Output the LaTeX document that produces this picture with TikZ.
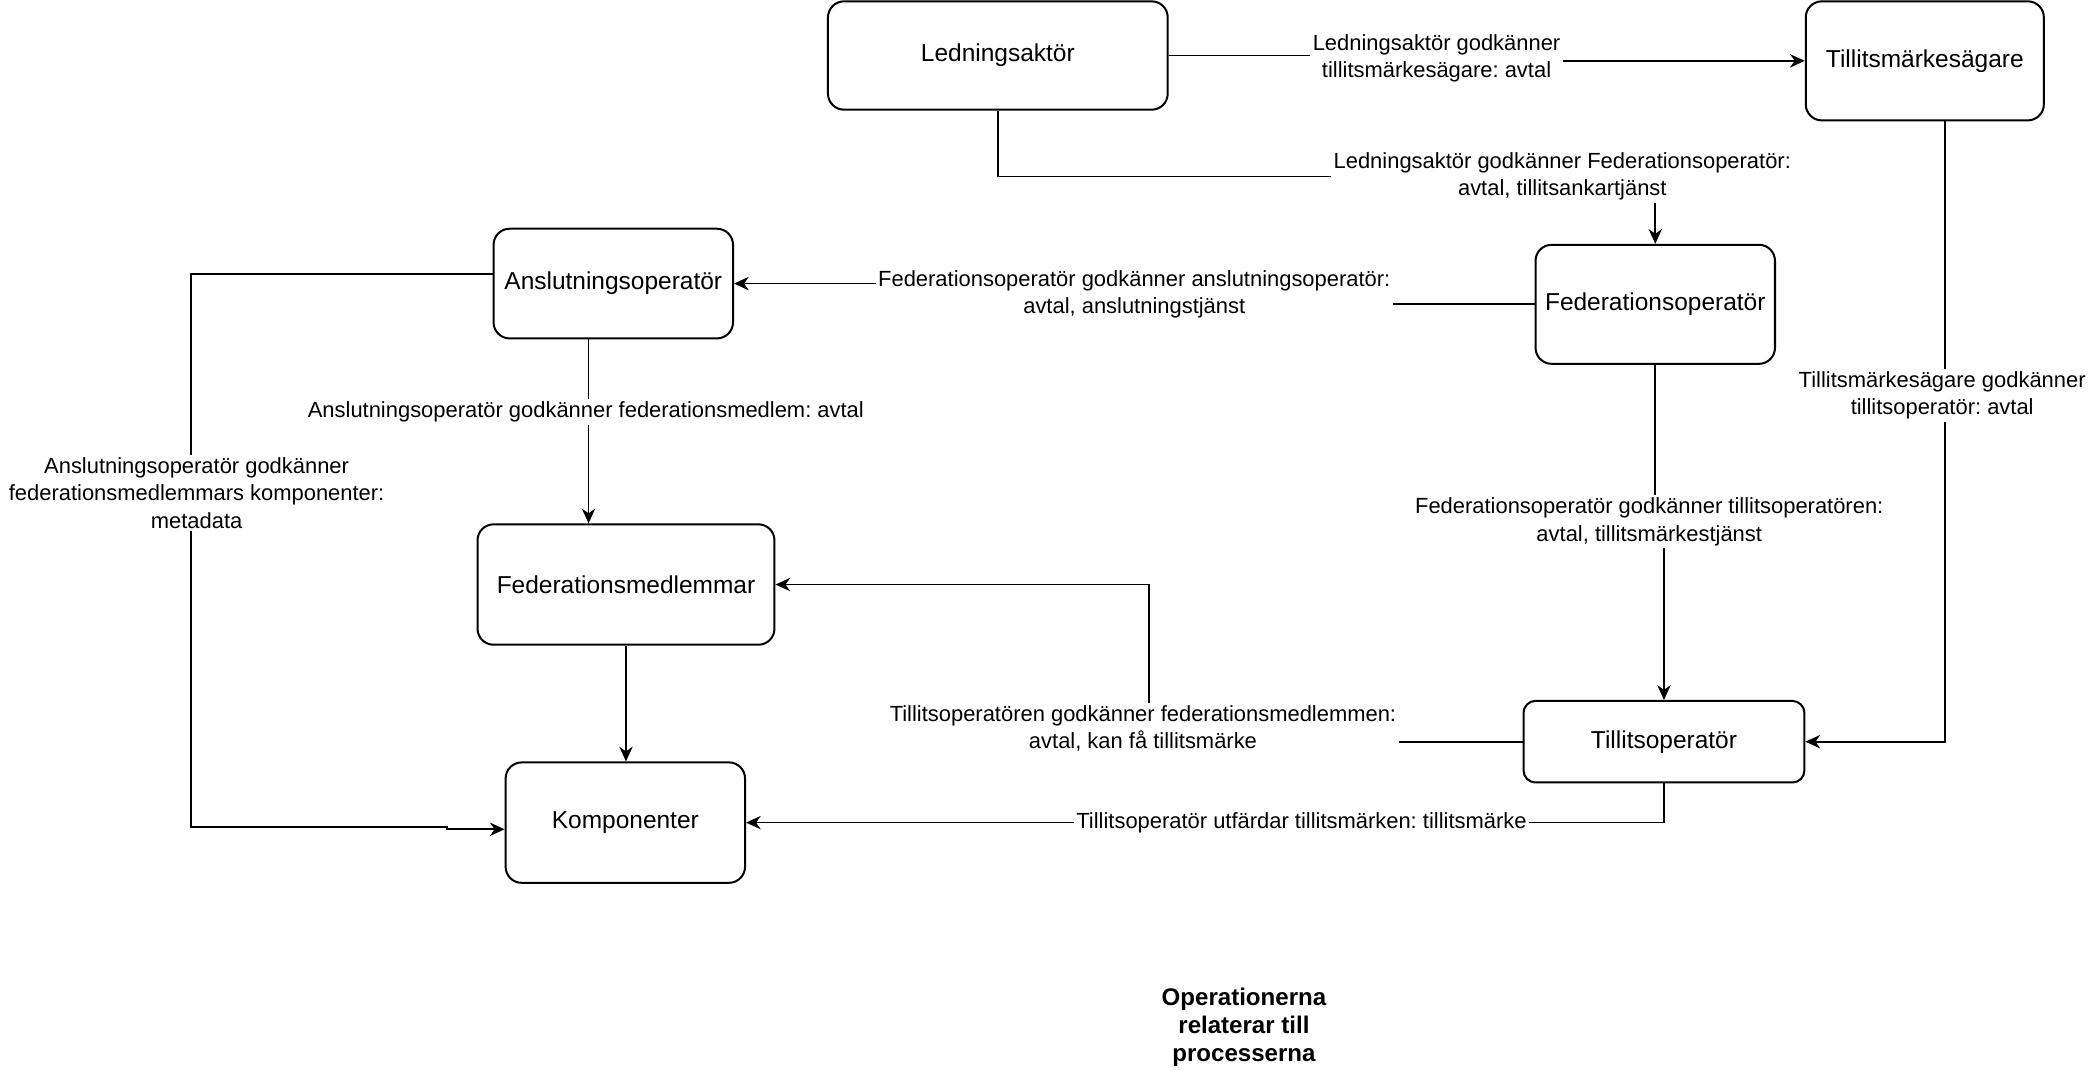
\documentclass[tikz,border=0pt]{standalone}
\usepackage{fontspec}
\setmainfont{Liberation Sans}
\usetikzlibrary{arrows.meta}
\frenchspacing
\begin{document}
\begin{tikzpicture}[x=1pt,y=-1pt,
  box/.style={draw, line width=1.5pt, rounded corners=12pt, align=center,
    font=\fontsize{18.3}{22}\selectfont, inner sep=0pt},
  lbl/.style={fill=white, align=center, font=\fontsize{16.4}{20.5}\selectfont, inner sep=2pt},
  conn/.style={line width=1.3pt},
  arr/.style={conn, -{Stealth[length=11pt,width=10pt,inset=3.5pt]}}]
\useasboundingbox[fill=white] (0,0) rectangle (1567,800);

% boxes
\node[box, minimum width=254pt, minimum height=81pt] (lead) at (746,41.5) {Ledningsaktör};
\node[box, minimum width=178pt, minimum height=89pt] (tms) at (1439,45.5) {Tillitsmärkesägare};
\node[box, minimum width=179pt, minimum height=89pt] (fedop) at (1237.5,227.5) {Federationsoperatör};
\node[box, minimum width=179pt, minimum height=82pt] (ans) at (458.5,212) {Anslutningsoperatör};
\node[box, minimum width=222pt, minimum height=90pt] (fm) at (468,437) {Federationsmedlemmar};
\node[box, minimum width=179pt, minimum height=90pt] (komp) at (467.5,615) {Komponenter};
\node[box, minimum width=210pt, minimum height=61pt, rounded corners=9pt] (tillop) at (1244,554.5) {Tillitsoperatör};

% label anchor coordinates
\coordinate (l1) at (1074,43.5);
\coordinate (l2) at (1168,132);
\coordinate (l3) at (1452,295.5);
\coordinate (l4) at (848,220);
\coordinate (l5) at (1233,390);
\coordinate (l6) at (438,308);
\coordinate (l7) at (147,368.5);
\coordinate (l9) at (854.5,544.5);
\coordinate (l10) at (973,615);
\coordinate (k7a) at (143,618);
\coordinate (k7b) at (334,618);
\coordinate (c9) at (859,437);

% connectors
\draw[arr] (lead.east) -| (l1) |- (tms.west);
\draw[arr] (lead.south) |- (l2) -| (fedop.north);
\draw[arr] ([xshift=15pt]tms.south) |- (tillop.east);
\draw[arr] (fedop.west) -| (l4) |- (ans.east);
\draw[arr] (fedop.south) |- (l5) -| (tillop.north);
\draw[arr] ([xshift=-18.5pt]ans.south) -- ([xshift=-18.5pt]ans.south |- fm.north);
\draw[arr] ([yshift=7pt]ans.west) -| (k7a) -- (k7b) |- ([yshift=-5pt]komp.west);
\draw[arr] (fm.south) -- (fm.south |- komp.north);
\draw[arr] (tillop.west) -| (c9) -- (fm.east);
\draw[arr] (tillop.south) |- (komp.east);

% labels
\node[lbl] (t1) at (l1) {Ledningsaktör godkänner\\tillitsmärkesägare: avtal};
\node[lbl] (t2) at (l2) {Ledningsaktör godkänner Federationsoperatör:\\avtal, tillitsankartjänst};
\node[lbl] (t3) at (l3) {Tillitsmärkesägare godkänner\\tillitsoperatör: avtal};
\node[lbl] (t4) at (l4) {Federationsoperatör godkänner anslutningsoperatör:\\avtal, anslutningstjänst};
\node[lbl] (t5) at (l5) {Federationsoperatör godkänner tillitsoperatören:\\avtal, tillitsmärkestjänst};
\node[lbl] (t6) at (l6) {Anslutningsoperatör godkänner federationsmedlem: avtal};
\node[lbl] (t7) at (l7) {Anslutningsoperatör godkänner\\federationsmedlemmars komponenter:\\metadata};
\node[lbl] (t9) at (l9) {Tillitsoperatören godkänner federationsmedlemmen:\\avtal, kan få tillitsmärke};
\node[lbl] (t10) at (l10) {Tillitsoperatör utfärdar tillitsmärken: tillitsmärke};

\node[align=center, font=\bfseries\fontsize{18}{21}\selectfont] (cap) at (930,768)
  {Operationerna\\relaterar till\\processerna};
\end{tikzpicture}
\end{document}
